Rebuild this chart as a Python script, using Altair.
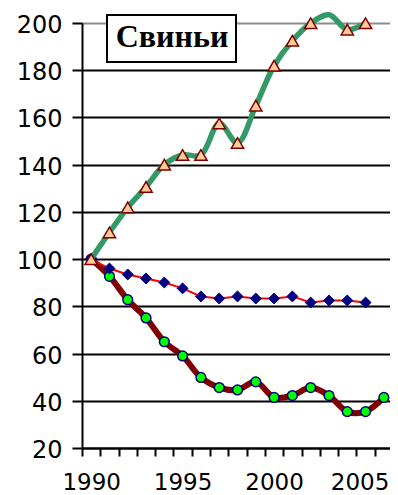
import json
import altair as alt
import pandas as pd

# ---- data ----
years = [str(y) for y in range(1990, 2007)]
circle_vals = [100, 92.7, 82.8, 75.1, 65.0, 59.0, 49.9, 45.6, 44.6, 48.0,
               41.4, 42.2, 45.6, 42.2, 35.4, 35.4, 41.4]
diamond_vals = [100, 96.0, 93.5, 91.8, 90.1, 87.6, 84.2, 83.3, 84.2, 83.3,
                83.3, 84.2, 81.6, 82.5, 82.5, 81.6, None]
triangle_vals = [100, 111.3, 121.9, 130.6, 140.0, 144.1, 144.1, 157.5, 149.2,
                 165.0, 181.9, 192.5, 199.9, 203.5, 197.2, 199.9, None]
y_ticks = list(range(20, 201, 20))
x_labels = ["1990", "1995", "2000", "2005"]
title_text = "Свиньи"

Y_MIN, Y_MAX = 20, 200

df_c = pd.DataFrame({"year": years, "value": circle_vals})
df_d = pd.DataFrame({"year": years, "value": diamond_vals}).dropna()
df_t = pd.DataFrame({"year": years, "value": triangle_vals}).dropna()

label_expr = "indexof(%s, datum.value) >= 0 ? datum.value : ''" % json.dumps(x_labels)

x_enc = alt.X(
    "year:O",
    bandPosition=0.5,
    scale=alt.Scale(type="band", domain=years, paddingInner=0, paddingOuter=0,
                    range=[0, 311]),
    axis=alt.Axis(
        title=None, tickBand="extent", labelExpr=label_expr, labelAngle=0,
        labelFont="DejaVu Sans", labelFontSize=23, labelColor="black",
        labelPadding=15, tickSize=8, tickWidth=2, tickColor="black",
        domainColor="black", domainWidth=2, grid=False,
        labelOffset=alt.condition("datum.value == '%s'" % x_labels[-1],
                                  alt.value(-6), alt.value(0)),
    ),
)
y_enc = alt.Y(
    "value:Q",
    scale=alt.Scale(domain=[Y_MIN, Y_MAX], nice=False, zero=False),
    axis=alt.Axis(
        title=None, values=y_ticks, labelFont="DejaVu Sans", labelFontSize=24,
        labelColor="black", labelPadding=10, labelOffset=2.5, tickSize=10,
        tickWidth=2, tickColor="black", domainColor="black", domainWidth=2,
        grid=True, gridWidth=2,
        gridColor=alt.condition("datum.value == %d" % Y_MAX,
                                alt.value("#8c8c8c"), alt.value("black")),
    ),
)

base_c = alt.Chart(df_c).encode(x=x_enc, y=y_enc)
line_c = base_c.mark_line(color="#800000", strokeWidth=6, interpolate="catmull-rom", clip=False)
pts_c = base_c.mark_point(shape="circle", filled=True, fill="#00ff00", stroke="#000080",
                          strokeWidth=1.5, size=95, opacity=1)

base_d = alt.Chart(df_d).encode(x=x_enc, y=y_enc)
line_d = base_d.mark_line(color="#ff0000", strokeWidth=2)
pts_d = base_d.mark_point(shape="diamond", filled=True, fill="#000080", stroke="#000080",
                          strokeWidth=1, size=120, opacity=1)

base_t = alt.Chart(df_t).encode(x=x_enc, y=y_enc)
line_t = base_t.mark_line(color="#339966", strokeWidth=5.5, interpolate="catmull-rom", clip=False)
pts_t = base_t.transform_filter("datum.value <= %d" % Y_MAX).mark_point(
    shape="triangle-up", filled=True, fill="#ffcc99", stroke="#800000",
    strokeWidth=1.5, size=150, opacity=1)

df_title = pd.DataFrame({"label": [title_text]})
box = alt.Chart(df_title).mark_rect(fill="white", stroke="black", strokeWidth=2, clip=False).encode(
    x=alt.value(25), x2=alt.value(154), y=alt.value(-8), y2=alt.value(39))
txt = alt.Chart(df_title).mark_text(font="Liberation Serif", fontSize=32, fontWeight="bold",
                                    color="black", align="center", baseline="alphabetic").encode(
    x=alt.value(90), y=alt.value(24), text="label:N")

chart = alt.layer(line_c, pts_c, line_d, pts_d, line_t, pts_t, box, txt).properties(
    width=308, height=425,
    autosize=alt.AutoSizeParams(type="none"),
    padding={"left": 74, "top": 15, "right": 0, "bottom": 47},
    background="white",
).configure_view(stroke=None)

chart.save("out.html", embed_options={"renderer": "svg", "actions": False})
